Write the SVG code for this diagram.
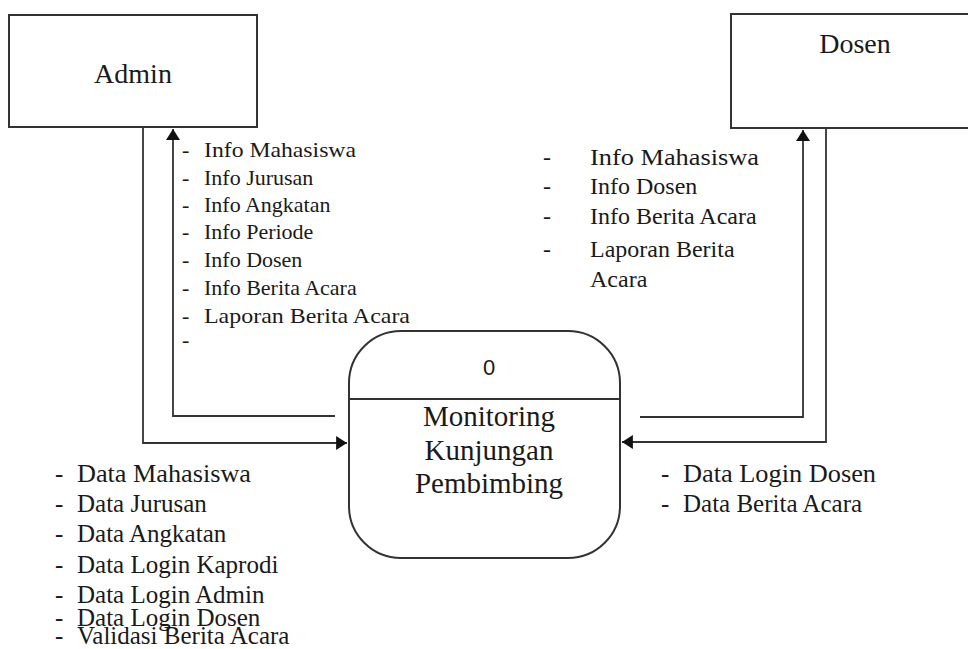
<svg xmlns="http://www.w3.org/2000/svg" width="968" height="649" viewBox="0 0 968 649">
<defs>
<style>
.box{fill:#fff;stroke:#333;stroke-width:2}
.ln{fill:none;stroke:#333;stroke-width:1.8}
.t{font-family:"Liberation Serif","Times New Roman",serif;fill:#1a1a1a}
.big{font-size:28px}
.proc{font-size:29px}
.s{font-family:"Liberation Sans",Arial,sans-serif;font-size:22px;fill:#1a1a1a}
.ia{font-size:22px}
.id{font-size:24px}
.dl{font-size:25px}
</style>
<marker id="arrv" viewBox="0 0 14 18" refX="14" refY="9" markerWidth="18" markerHeight="14" markerUnits="userSpaceOnUse" orient="auto">
<path d="M0,0 L14,9 L0,18 z" fill="#111"/>
</marker>
</defs>
<rect width="968" height="649" fill="#fff"/>

<g id="connectors">
<polyline class="ln" points="143,128 143,443 347,443" marker-end="url(#arrv)"/>
<polyline class="ln" points="335,416 173,416 173,129" marker-end="url(#arrv)"/>
<polyline class="ln" points="640,417 803,417 803,130" marker-end="url(#arrv)"/>
<polyline class="ln" points="826,128 826,442 622,442" marker-end="url(#arrv)"/>
</g>

<g id="admin">
<rect class="box" x="9" y="15" width="248" height="112"/>
<text class="t big" x="133" y="83" text-anchor="middle">Admin</text>
</g>

<g id="dosen">
<rect class="box" x="731" y="14" width="250" height="114"/>
<text class="t big" x="855" y="53" text-anchor="middle">Dosen</text>
</g>

<g id="process">
<rect class="box" x="349" y="331" width="271" height="227" rx="52" ry="52"/>
<line class="ln" x1="349" y1="399" x2="620" y2="399"/>
<text class="s" x="489" y="375" text-anchor="middle">0</text>
<text class="t proc" x="489" y="426" text-anchor="middle">Monitoring</text>
<text class="t proc" x="489" y="460" text-anchor="middle">Kunjungan</text>
<text class="t proc" x="489" y="493" text-anchor="middle">Pembimbing</text>
</g>

<g id="label-admin-out" class="t ia">
<text x="182" y="157">-</text><text x="204" y="157" textLength="152" lengthAdjust="spacingAndGlyphs">Info Mahasiswa</text>
<text x="182" y="185">-</text><text x="204" y="185">Info Jurusan</text>
<text x="182" y="212">-</text><text x="204" y="212">Info Angkatan</text>
<text x="182" y="239">-</text><text x="204" y="239">Info Periode</text>
<text x="182" y="267">-</text><text x="204" y="267">Info Dosen</text>
<text x="182" y="295">-</text><text x="204" y="295">Info Berita Acara</text>
<text x="182" y="323">-</text><text x="204" y="323" textLength="206" lengthAdjust="spacingAndGlyphs">Laporan Berita Acara</text>
<text x="182" y="347">-</text>
</g>

<g id="label-dosen-out" class="t id">
<text x="543" y="165">-</text><text x="590" y="165" textLength="169" lengthAdjust="spacingAndGlyphs">Info Mahasiswa</text>
<text x="543" y="194">-</text><text x="590" y="194">Info Dosen</text>
<text x="543" y="224">-</text><text x="590" y="224">Info Berita Acara</text>
<text x="543" y="257">-</text><text x="590" y="257">Laporan Berita</text>
<text x="590" y="287">Acara</text>
</g>

<g id="label-admin-in" class="t dl">
<text x="55" y="482">-</text><text x="77" y="482" textLength="174" lengthAdjust="spacingAndGlyphs">Data Mahasiswa</text>
<text x="55" y="512">-</text><text x="77" y="512">Data Jurusan</text>
<text x="55" y="542">-</text><text x="77" y="542">Data Angkatan</text>
<text x="55" y="573">-</text><text x="77" y="573">Data Login Kaprodi</text>
<text x="55" y="603">-</text><text x="77" y="603">Data Login Admin</text>
<text x="55" y="626">-</text><text x="77" y="626">Data Login Dosen</text>
<text x="55" y="644">-</text><text x="77" y="644">Validasi Berita Acara</text>
</g>

<g id="label-dosen-in" class="t dl">
<text x="661" y="482">-</text><text x="683" y="482" textLength="193" lengthAdjust="spacingAndGlyphs">Data Login Dosen</text>
<text x="661" y="512">-</text><text x="683" y="512">Data Berita Acara</text>
</g>
</svg>
